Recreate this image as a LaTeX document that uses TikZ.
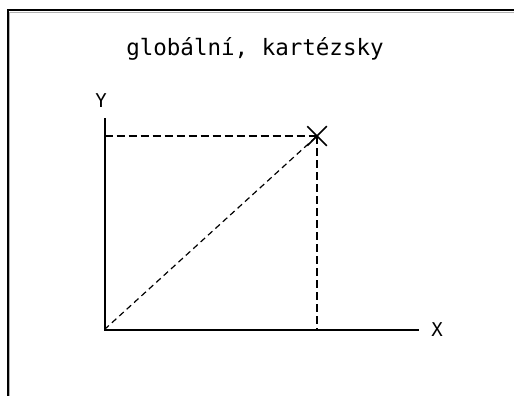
\documentclass[tikz,border=0pt]{standalone}
\usepackage{fontspec}
\setmonofont{DejaVu Sans Mono}
\usetikzlibrary{shapes.misc}
\tikzset{
  axis/.style={line width=2pt, line cap=rect},
  guide/.style={line width=1.8pt, dash pattern=on 8pt off 4pt},
  diag/.style={line width=1.2pt, dash pattern=on 6pt off 4pt},
  lbl/.style={inner sep=0pt, font=\ttfamily\fontsize{19}{19}\selectfont},
  frame/.style={line width=2pt}
}
\begin{document}
\begin{tikzpicture}[x=1pt,y=-1pt]
\useasboundingbox (0,0) rectangle (514,396);
\draw[frame] (7.5,396) -- (7.5,10.5) -- (514,10.5);
\draw[gray!60, line width=0.8pt] (9.5,396) -- (9.5,12.5) -- (514,12.5);
\node[inner sep=0pt, font=\ttfamily\fontsize{22.5}{22.5}\selectfont] (title) at (255,49) {globální, kartézsky};
\coordinate (O) at (104.5,329.5);
\coordinate (ytop) at (104.5,119);
\coordinate (xend) at (418,329.5);
\coordinate (py) at (104.5,136);
\coordinate (px) at (317,329.5);
\node[draw, cross out, line width=1.5pt, minimum size=18pt, inner sep=0pt] (P) at (317,136) {};
\node[lbl] (ylbl) at (101,101) {Y};
\node[lbl] (xlbl) at (437,330) {X};
\draw[axis] (ytop) -- (O) -- (xend);
\draw[guide] (py) -- (P.center);
\draw[guide] (P.center) -- (px);
\draw[diag] (O) -- (P.center);
\end{tikzpicture}
\end{document}
